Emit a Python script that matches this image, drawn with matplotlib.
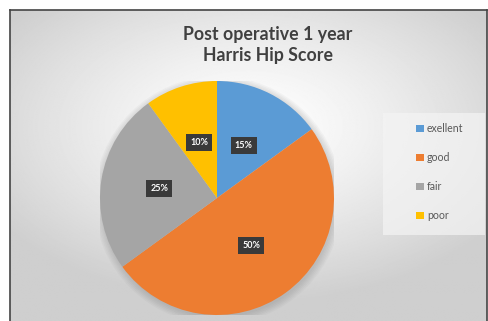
import numpy as np
import matplotlib.pyplot as plt
from matplotlib.patches import Rectangle

# data
labels = ['exellent', 'good', 'fair', 'poor']
values = [15, 50, 25, 10]
colors = ['#5B9BD5', '#ED7D31', '#A5A5A5', '#FFC000']
title = 'Post operative 1 year\nHarris Hip Score'

plt.rcParams['font.family'] = ['Lato', 'DejaVu Sans']

W, H = 488, 321
fig = plt.figure(figsize=(W / 100, H / 100), dpi=100)
fig.patch.set_facecolor('white')

# chart area background: radial grey gradient
bg = fig.add_axes([10 / W, 0, 477 / W, 311 / H])
yy, xx = np.mgrid[-1:1:300j, -1:1:480j]
d = np.sqrt((xx * 1.0) ** 2 + ((yy + 0.25) * 1.1) ** 2)
shade = 1.0 - 0.19 * np.clip(d / 1.25, 0, 1) ** 1.3
bg.imshow(shade, cmap='gray', vmin=0, vmax=1, aspect='auto',
          extent=[0, 1, 0, 1], interpolation='bilinear')
bg.set_xlim(0, 1)
bg.set_ylim(0, 1)
bg.set_xticks([])
bg.set_yticks([])
for s in bg.spines.values():
    s.set_color('#444444')
    s.set_linewidth(1.2)
bg.spines['bottom'].set_visible(False)

fig.text(268 / W, 1 - 45 / H, title, ha='center', va='center',
         fontsize=12.8, fontweight='bold', color='#404040', linespacing=1.35)

# legend panel
fig.patches.append(Rectangle((383 / W, 1 - 235 / H), 102 / W, 122 / H,
                             transform=fig.transFigure, facecolor='#f4f4f4',
                             alpha=0.7, edgecolor='none', zorder=1))

# pie
cx, cy, r = 217, 198, 117
ax = fig.add_axes([(cx - r) / W, 1 - (cy + r) / H, 2 * r / W, 2 * r / H])
ax.set_xlim(-1, 1)
ax.set_ylim(-1, 1)
ax.axis('off')

# soft shadow
for k in range(6):
    ax.add_patch(plt.Circle((0.01, -0.02), 1.0 + 0.012 * k, color='#707070',
                            alpha=0.05, lw=0))

wedges, texts, autotexts = ax.pie(values, colors=colors, startangle=90,
                                  counterclock=False, radius=1,
                                  autopct='%d%%', pctdistance=0.5,
                                  wedgeprops=dict(linewidth=0))
for t in autotexts:
    t.set_color('white')
    t.set_fontsize(6.5)
    t.set_fontweight('bold')
    t.set_bbox(dict(boxstyle='square,pad=0.45', facecolor='#3A3A3A',
                    edgecolor='none'))
ax.set_xlim(-1, 1)
ax.set_ylim(-1, 1)

leg = fig.legend(wedges, labels, loc='upper left',
                 bbox_to_anchor=(408 / W, 1 - 115 / H),
                 frameon=False, fontsize=7.6, labelcolor='#595959',
                 handlelength=0.7, handleheight=0.7, handletextpad=0.3,
                 labelspacing=1.7, borderpad=0.3)

fig.savefig('out.png', dpi=100)
